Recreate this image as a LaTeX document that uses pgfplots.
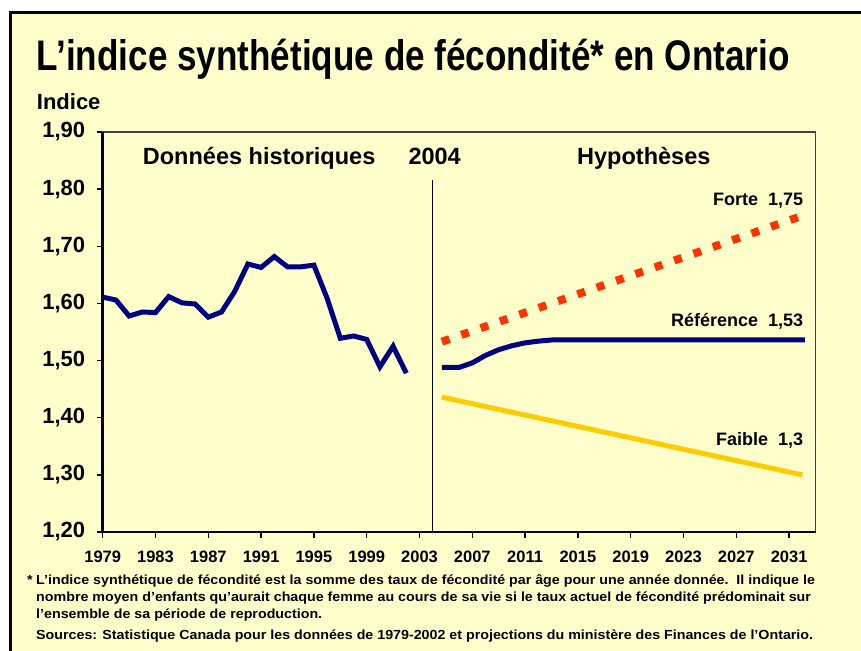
\documentclass[border=0pt]{standalone}
\usepackage{fontspec}
\setmainfont{Liberation Sans}
\newfontfamily\narrowfont[FakeStretch=0.82]{Liberation Sans}
\newfontfamily\widefont[FakeStretch=1.08]{Liberation Sans}
\usepackage{pgfplots}
\pgfplotsset{compat=1.18}
\definecolor{bg}{HTML}{FFFFCC}
\definecolor{navy}{HTML}{000080}
\definecolor{forte}{HTML}{FF3300}
\definecolor{faible}{HTML}{FFCC00}
\newcommand{\fs}[1]{\fontsize{#1bp}{#1bp}\selectfont\bfseries}
\begin{document}
\begin{tikzpicture}
\begin{scope}[x=1bp,y=1bp]
\useasboundingbox (0,0) rectangle (861,651);
\fill[white] (0,0) rectangle (861,651);
\filldraw[fill=bg,draw=black,line width=3bp] (10,638.2) rectangle (900,-50);
\node[anchor=base west, inner sep=0] at (36.7,580.3) {\narrowfont\fs{42.8}L’indice synthétique de fécondité* en Ontario};
\node[anchor=base west, inner sep=0] at (36.7,541) {\fs{22}Indice};
\end{scope}
\begin{axis}[
  at={(102.7bp,119bp)}, anchor=south west, scale only axis,
  width=712.8bp, height=400bp,
  xmin=1979, xmax=2033, ymin=1.2, ymax=1.9,
  xtick={1979,1983,...,2031},
  ytick={1.2,1.3,1.4,1.5,1.6,1.7,1.8,1.9},
  xtick pos=bottom, ytick pos=left,
  tick align=outside, major tick length=6bp,
  tick style={black, line width=1.5bp},
  axis line style={draw=black!75, line width=1.2bp},
  /pgf/number format/assume math mode=true,
  x tick label style={/pgf/number format/1000 sep={}, font=\fs{16.5}, yshift=-9bp},
  y tick label style={/pgf/number format/use comma, /pgf/number format/fixed, /pgf/number format/fixed zerofill, /pgf/number format/precision=2, font=\fs{22}, xshift=-8bp},
  clip=false,
]
\addplot[black, line width=1bp] coordinates {(2004,1.2) (2004,1.816)};
\addplot[navy, line width=5bp] coordinates {
(1979,1.611) (1980,1.606) (1981,1.578) (1982,1.585) (1983,1.584) (1984,1.612)
(1985,1.601) (1986,1.599) (1987,1.576) (1988,1.585) (1989,1.621) (1990,1.669)
(1991,1.663) (1992,1.682) (1993,1.664) (1994,1.664) (1995,1.667) (1996,1.609)
(1997,1.539) (1998,1.543) (1999,1.537) (2000,1.489) (2001,1.525) (2002,1.478)};
\addplot[navy, line width=5bp] coordinates {
(2004.7,1.488) (2006,1.488) (2007,1.496) (2008,1.509) (2009,1.519) (2010,1.526)
(2011,1.531) (2012,1.534) (2013,1.536) (2032.2,1.536)};
\addplot[forte, line width=8bp, dash pattern=on 8bp off 12.5bp] coordinates {(2004.7,1.533) (2032.2,1.755)};
\addplot[faible, line width=5bp] coordinates {(2004.7,1.436) (2032,1.300)};
\draw[black, line width=2.5bp] (rel axis cs:0,1) -- (rel axis cs:0,0) -- (rel axis cs:1,0);
\end{axis}
\begin{scope}[x=1bp,y=1bp]
\node[anchor=base west, inner sep=0] at (142.7,486) {\fs{23.5}Données historiques};
\node[anchor=base west, inner sep=0] at (408.3,486) {\fs{23.5}2004};
\node[anchor=base west, inner sep=0] at (577,486) {\fs{23.5}Hypothèses};
\node[anchor=base east, inner sep=0] at (803.3,445) {\fs{18}Forte~~1,75};
\node[anchor=base east, inner sep=0] at (803.3,324.3) {\fs{18}Référence~~1,53};
\node[anchor=base east, inner sep=0] at (803.3,205) {\fs{18}Faible~~1,3};
\node[anchor=base west, inner sep=0] at (27,66.5) {\widefont\fs{13.2}*};
\node[anchor=base west, inner sep=0] at (36,66.5) {\widefont\fs{13.2}L’indice synthétique de fécondité est la somme des taux de fécondité par âge pour une année donnée.\ \ Il indique le};
\node[anchor=base west, inner sep=0] at (36,49.5) {\widefont\fs{13.2}nombre moyen d’enfants qu’aurait chaque femme au cours de sa vie si le taux actuel de fécondité prédominait sur};
\node[anchor=base west, inner sep=0] at (36,32.5) {\widefont\fs{13.2}l’ensemble de sa période de reproduction.};
\node[anchor=base west, inner sep=0] at (36,11.5) {\widefont\fs{13.2}Sources: Statistique Canada pour les données de 1979-2002 et projections du ministère des Finances de l’Ontario.};
\end{scope}
\end{tikzpicture}
\end{document}
